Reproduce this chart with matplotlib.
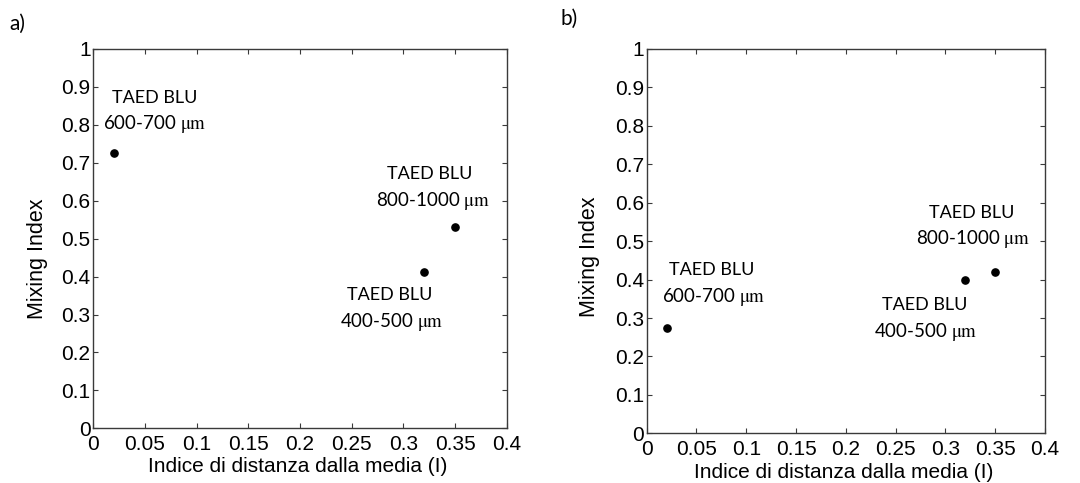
import matplotlib
matplotlib.use("Agg")
import matplotlib.pyplot as plt
import numpy as np

plt.rcParams['font.family'] = ['Liberation Sans', 'DejaVu Sans']
plt.rcParams['mathtext.fontset'] = 'stix'

# Data
x_vals = [0.02, 0.32, 0.35]
mix_a = [0.726, 0.411, 0.532]
mix_b = [0.273, 0.398, 0.420]
labels = ["600-700", "400-500", "800-1000"]

xticks = [0, 0.05, 0.1, 0.15, 0.2, 0.25, 0.3, 0.35, 0.4]
xticklabels = ["0", "0.05", "0.1", "0.15", "0.2", "0.25", "0.3", "0.35", "0.4"]
yticks = [0, 0.1, 0.2, 0.3, 0.4, 0.5, 0.6, 0.7, 0.8, 0.9, 1]
yticklabels = ["0", "0.1", "0.2", "0.3", "0.4", "0.5", "0.6", "0.7", "0.8", "0.9", "1"]

# annotation anchor positions (data coords): (x_top, y_top, x_bottom, y_bottom)
ann_a = [(0.0597, 0.871, 0.0597, 0.802),
         (0.287, 0.351, 0.2887, 0.281),
         (0.3258, 0.670, 0.3284, 0.599)]
ann_b = [(0.0653, 0.425, 0.0669, 0.355),
         (0.2795, 0.334, 0.2805, 0.263),
         (0.3264, 0.574, 0.328, 0.505)]

W, H = 1080, 483
fig = plt.figure(figsize=(W / 100, H / 100), dpi=100)

spine_col = '#3a3a3a'


def make_panel(rect, yvals, ann, panel_label, plabel_pos, ylab_pos, xlab_pos):
    ax = fig.add_axes(rect)
    ax.plot(x_vals, yvals, 'o', color='black', markersize=5.2, linestyle='none')
    ax.set_xlim(0, 0.4)
    ax.set_ylim(0, 1)
    ax.set_xticks(xticks)
    ax.set_xticklabels(xticklabels)
    ax.set_yticks(yticks)
    ax.set_yticklabels(yticklabels)
    ax.tick_params(direction='in', length=3.5, width=0.8, color=spine_col,
                   top=True, right=True, labelsize=15, labelcolor='black')
    ax.tick_params(axis='x', pad=5)
    ax.tick_params(axis='y', pad=2)
    for s in ax.spines.values():
        s.set_color(spine_col)
        s.set_linewidth(1.0)
    ax.set_ylabel('Mixing Index', fontsize=15.5, va='center')
    ax.yaxis.set_label_coords(ylab_pos[0] / W, 1 - ylab_pos[1] / H, transform=fig.transFigure)
    ax.set_xlabel('Indice di distanza dalla media (I)', fontsize=15, va='center')
    ax.xaxis.set_label_coords(xlab_pos[0] / W, 1 - xlab_pos[1] / H, transform=fig.transFigure)
    for lab, (xt, yt, xb, yb) in zip(labels, ann):
        ax.text(xt, yt, 'TAED BLU', family='Lato', fontsize=13,
                ha='center', va='center')
        ax.text(xb, yb, lab + r' $\mathrm{\mu m}$', family='Lato', fontsize=13.5,
                ha='center', va='center')
    fig.text(plabel_pos[0] / W, 1 - plabel_pos[1] / H, panel_label,
             family='Lato', fontsize=15, ha='center', va='center')
    return ax


make_panel([93.3 / W, (H - 428.3) / H, 413.4 / W, 379.3 / H], mix_a, ann_a,
           'a)', (17, 24), (38, 259), (298, 467))
make_panel([646.7 / W, (H - 433.3) / H, 398.3 / W, 384.3 / H], mix_b, ann_b,
           'b)', (569, 19), (590, 257), (844, 472))

fig.savefig('out.png', dpi=100, facecolor='white')
